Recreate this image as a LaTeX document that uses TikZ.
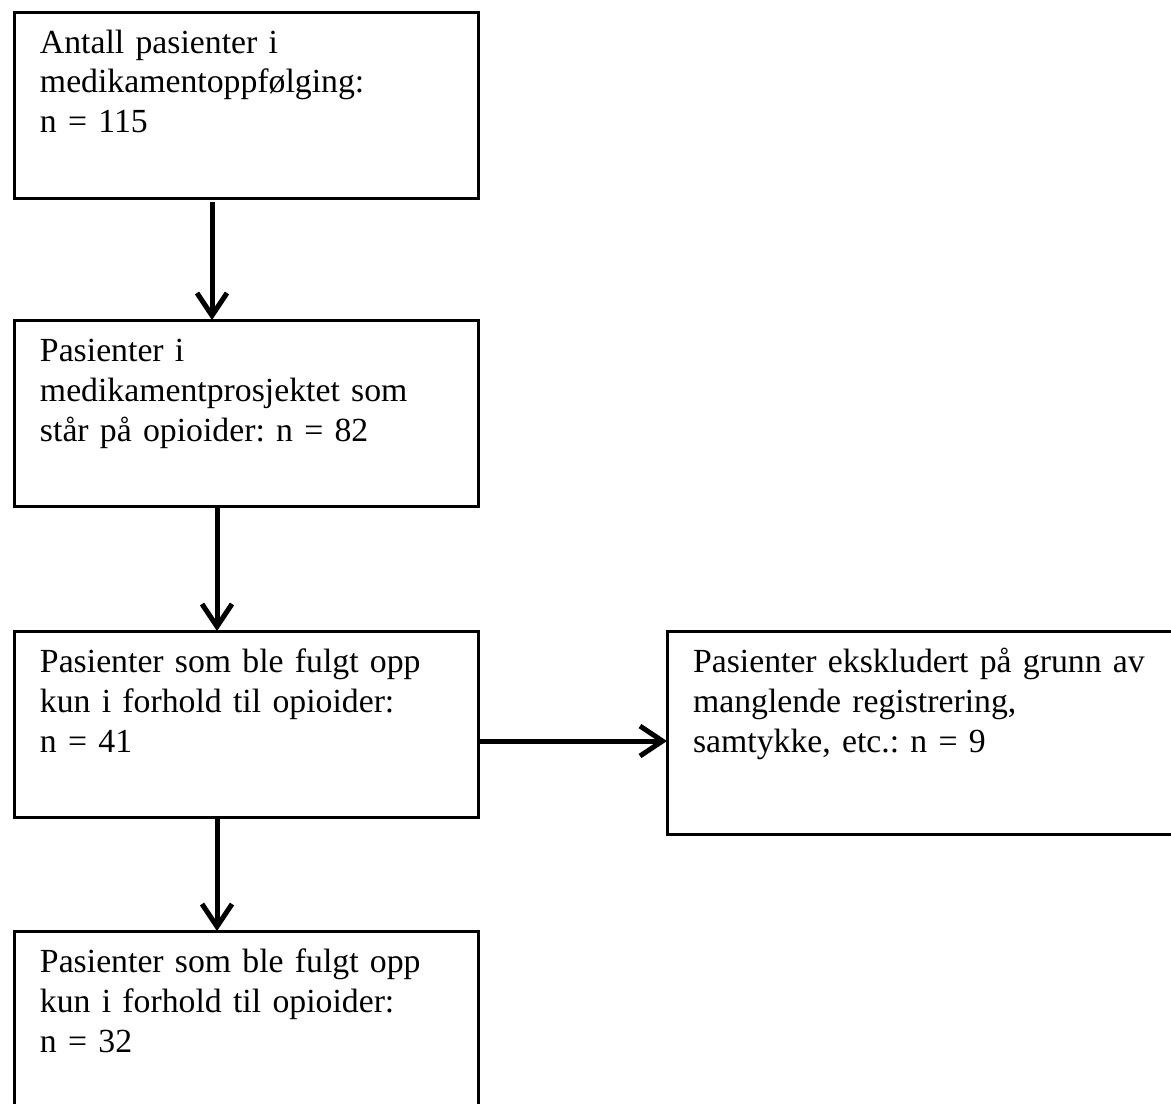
\documentclass[tikz,border=0pt]{standalone}
\usepackage{fontspec}
\setmainfont{Liberation Serif}
\usetikzlibrary{positioning,arrows.meta}
\frenchspacing

\begin{document}
\begin{tikzpicture}[node distance=48pt, auto]

% Define styles
\tikzstyle{block} = [draw, rectangle, line width=1.2pt, outer sep=0pt, inner xsep=10.4pt, inner ysep=0pt, text width=164.8pt, align=left, text height=16.4pt, text depth=58pt, font=\fontsize{13.5}{16}\selectfont]
\tikzstyle{line} = [-{Straight Barb[length=9pt,width=12pt]}, line width=2pt]

\useasboundingbox (0pt,0pt) rectangle (468.4pt,-441.6pt);

% Left column
\node[block, anchor=north west] (total) at (5.6pt,-4.8pt) {Antall pasienter i\\medikamentoppfølging:\\n = 115};
\node[block, below=48.8pt of total] (opioids) {Pasienter i\\medikamentprosjektet som\\står på opioider: n = 82};
\node[block, below=50pt of opioids] (followed) {Pasienter som ble fulgt opp\\kun i forhold til opioider:\\n = 41};
\node[block, below=45.6pt of followed] (final) {Pasienter som ble fulgt opp\\kun i forhold til opioider:\\n = 32};

% Right box
\node[block, text width=184.4pt, text depth=64.8pt, right=75.6pt of followed.north east, anchor=north west] (excluded) {Pasienter ekskludert på grunn av\\manglende registrering,\\samtykke, etc.: n = 9};

% Arrows
\draw[line, shorten <=1.6pt] ([xshift=-13.6pt]total.south) -- ([xshift=-13.6pt]opioids.north);
\draw[line] ([xshift=-11.6pt]opioids.south) -- ([xshift=-11.6pt]followed.north);
\draw[line] ([xshift=-11.6pt]followed.south) -- ([xshift=-11.6pt]final.north);
\draw[line] ([yshift=-6.8pt]followed.east) -- ([yshift=-6.8pt]followed.east -| excluded.west);

\end{tikzpicture}
\end{document}
